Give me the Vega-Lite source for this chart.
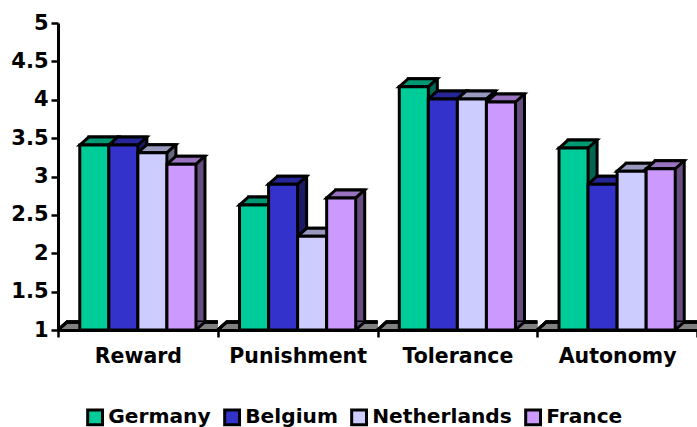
{
"$schema":"https://vega.github.io/schema/vega-lite/v6.json",
"width":639,"height":307,
"autosize":{"type":"none"},
"padding":{"left":58,"top":23,"right":0,"bottom":97},
"background":"white",
"config":{"view":{"stroke":null},"font":"DejaVu Sans"},
"data":{"values":[
{"factor":"Reward","country":"Germany","score":3.41},{"factor":"Reward","country":"Belgium","score":3.41},{"factor":"Reward","country":"Netherlands","score":3.31},{"factor":"Reward","country":"France","score":3.16},
{"factor":"Punishment","country":"Germany","score":2.63},{"factor":"Punishment","country":"Belgium","score":2.9},{"factor":"Punishment","country":"Netherlands","score":2.22},{"factor":"Punishment","country":"France","score":2.72},
{"factor":"Tolerance","country":"Germany","score":4.17},{"factor":"Tolerance","country":"Belgium","score":4.01},{"factor":"Tolerance","country":"Netherlands","score":4.01},{"factor":"Tolerance","country":"France","score":3.97},
{"factor":"Autonomy","country":"Germany","score":3.37},{"factor":"Autonomy","country":"Belgium","score":2.9},{"factor":"Autonomy","country":"Netherlands","score":3.07},{"factor":"Autonomy","country":"France","score":3.1}
]},
"encoding":{
"x":{"field":"factor","type":"nominal","sort":["Reward","Punishment","Tolerance","Autonomy"],"scale":{"paddingInner":0,"paddingOuter":0},
"axis":{"title":null,"labelAngle":0,"labelFontSize":20.5,"labelFontWeight":"bold","labelColor":"black","labelPadding":9,"tickBand":"extent","tickColor":"black","tickSize":7,"tickWidth":2.5,"domainColor":"black","domainWidth":3,"zindex":1}},
"xOffset":{"field":"country","type":"nominal","sort":["Germany","Belgium","Netherlands","France"],"scale":{"type":"band","paddingInner":0,"paddingOuter":0.75}},
"y":{"field":"score","type":"quantitative","scale":{"domain":[1,5],"nice":false,"zero":false},
"axis":{"title":null,"values":[1,1.5,2,2.5,3,3.5,4,4.5,5],"tickCount":9,"labelOverlap":false,"format":"~g","grid":false,"labelFontSize":21,"labelFontWeight":"bold","labelColor":"black","labelPadding":3,"tickColor":"black","tickSize":7,"tickWidth":2.5,"domainColor":"black","domainWidth":3}}
},
"layer":[
{"mark":{"type":"point","filled":true,"shape":"M-79.9,0 L-70.9,-8 L79.9,-8 L79.9,0 Z","size":4,"fill":"#808080","opacity":1},"encoding":{"xOffset":null,"y":{"datum":1,"type":"quantitative"}}},
{"mark":{"type":"point","filled":false,"shape":"M-79.9,0 L-70.9,-8 L79.9,-8","size":4,"stroke":"black","strokeWidth":3,"opacity":1},"encoding":{"xOffset":null,"y":{"datum":1,"type":"quantitative"}}},
{"mark":{"type":"bar","yOffset":-8,"y2Offset":-8,"stroke":"black","strokeWidth":3},"encoding":{"xOffset":{"field":"country","type":"nominal","sort":["Germany","Belgium","Netherlands","France"],"scale":{"type":"band","paddingInner":0,"paddingOuter":0.75,"range":[9,168.75]}},"y2":{"datum":1},"fill":{"field":"country","type":"nominal","legend":null,"scale":{"domain":["Germany","Belgium","Netherlands","France"],"range":["#006650","#1A1A66","#666680","#664D80"]}}}},
{"mark":{"type":"point","filled":true,"shape":"M14.5,0 L23.5,-8 L14.5,-8 Z","size":4,"opacity":1},"encoding":{"y":{"datum":1,"type":"quantitative"},"fill":{"field":"country","type":"nominal","legend":null,"scale":{"domain":["Germany","Belgium","Netherlands","France"],"range":["#006650","#1A1A66","#666680","#664D80"]}}}},
{"mark":{"type":"point","filled":false,"shape":"M14.5,0 L23.5,-8","size":4,"stroke":"black","strokeWidth":3,"opacity":1},"encoding":{"y":{"datum":1,"type":"quantitative"}}},
{"mark":{"type":"point","filled":true,"shape":"M-14.5,0 L-5.5,-8 L23.5,-8 L14.5,0 Z","size":4,"stroke":"black","strokeWidth":3,"opacity":1},"encoding":{"fill":{"field":"country","type":"nominal","legend":null,"scale":{"domain":["Germany","Belgium","Netherlands","France"],"range":["#009973","#262699","#9999BF","#9973BF"]}}}},
{"mark":{"type":"bar","stroke":"black","strokeWidth":3},"encoding":{"y2":{"datum":1},"fill":{"field":"country","type":"nominal","scale":{"domain":["Germany","Belgium","Netherlands","France"],"range":["#00CC99","#3333CC","#CCCCFF","#CC99FF"]},
"legend":{"title":null,"orient":"none","legendX":27,"legendY":384,"direction":"horizontal","columns":4,"columnPadding":7,"symbolType":"square","symbolSize":220,"symbolStrokeColor":"black","symbolStrokeWidth":3,"labelFontSize":20.2,"labelFontWeight":"bold","labelColor":"black","labelOffset":3,"labelLimit":200}}}}
],
"resolve":{"scale":{"fill":"independent","xOffset":"independent"}}
}
